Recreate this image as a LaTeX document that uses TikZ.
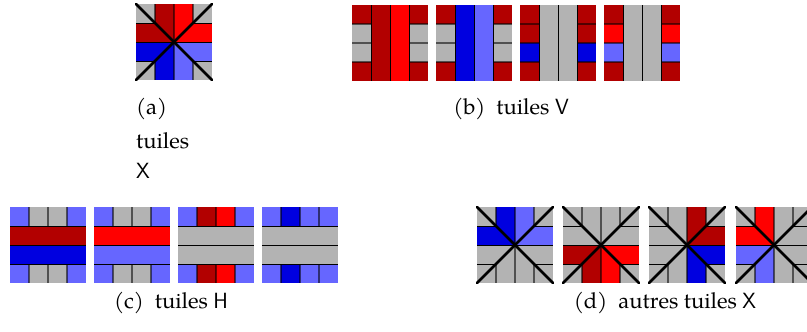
\documentclass[tikz,border=0pt]{standalone}
\usepackage{fontspec}
\setmainfont{texgyrepagella-regular.otf}
\usepackage{tikz}
\definecolor{cDR}{RGB}{178,0,0}
\definecolor{cR}{RGB}{255,0,0}
\definecolor{cB}{RGB}{0,0,224}
\definecolor{cLB}{RGB}{102,102,255}
\definecolor{cG}{RGB}{179,179,179}
\tikzset{
  strongline/.style={black, line width=0.9pt},
  softline/.style={black, opacity=0.55, line width=1.5pt},
  diagline/.style={black, line width=2.8pt, line cap=round},
  captext/.style={font=\fontsize{22}{26}\selectfont, inner sep=0pt}
}
% cells of a 4x4 tile: x, y, list of 16 colours (row by row)
\newcommand\tcells[3]{%
  \foreach \cc [count=\ii from 0] in {#3}{%
    \pgfmathtruncatemacro\cxx{mod(\ii,4)}%
    \pgfmathtruncatemacro\cyy{div(\ii,4)}%
    \fill[\cc] ({#1+19*\cxx},{#2+19*\cyy}) rectangle ++(19,19);}}
\newcommand\vgridlines[2]{%
  \foreach \k in {19,38,57}{%
    \draw[softline] (#1,{#2+\k}) -- ({#1+19},{#2+\k});
    \draw[softline] ({#1+57},{#2+\k}) -- ({#1+76},{#2+\k});}
  \foreach \k in {19,38,57}{%
    \draw[strongline] ({#1+\k},#2) -- ({#1+\k},{#2+76});}}
\newcommand\hgridlines[2]{%
  \foreach \k in {19,38,57}{%
    \draw[softline] ({#1+\k},#2) -- ({#1+\k},{#2+19});
    \draw[softline] ({#1+\k},{#2+57}) -- ({#1+\k},{#2+76});}
  \foreach \k in {19,38,57}{%
    \draw[strongline] (#1,{#2+\k}) -- ({#1+76},{#2+\k});}}
\newcommand\xgridlines[2]{%
  \foreach \k in {19,38,57}{%
    \draw[softline] ({#1+\k},#2) -- ({#1+\k},{#2+19});
    \draw[softline] ({#1+\k},{#2+57}) -- ({#1+\k},{#2+76});}
  \draw[softline] ({#1+38},{#2+19}) -- ({#1+38},{#2+57});
  \foreach \k in {19,38,57}{%
    \draw[strongline] (#1,{#2+\k}) -- ({#1+19},{#2+\k});
    \draw[strongline] ({#1+57},{#2+\k}) -- ({#1+76},{#2+\k});}
  \draw[strongline] ({#1+19},{#2+38}) -- ({#1+57},{#2+38});
  \draw[diagline] (#1,#2) -- ({#1+76},{#2+76});
  \draw[diagline] ({#1+76},#2) -- (#1,{#2+76});}
\begin{document}
\begin{tikzpicture}[x=1pt,y=-1pt]
\useasboundingbox (0,0) rectangle (807,332);
\clip (0,0) rectangle (807,332);
\fill[white] (0,0) rectangle (807,332);
% (a)
\tcells{136}{4}{cG,cDR,cR,cG, cDR,cDR,cR,cR, cB,cB,cLB,cLB, cG,cB,cLB,cG}
\xgridlines{136}{4}
\node[captext, anchor=base west] (capa1) at (136,114) {(a)};
\node[captext, anchor=base west] (capa2) at (136,148) {tuiles};
\node[captext, anchor=base west] (capa3) at (136,178) {\textsf{X}};
% (b) V tiles
\tcells{352}{5}{cDR,cDR,cR,cDR, cG,cDR,cR,cG, cG,cDR,cR,cG, cDR,cDR,cR,cDR}
\vgridlines{352}{5}
\tcells{436}{5}{cDR,cB,cLB,cDR, cG,cB,cLB,cG, cG,cB,cLB,cG, cDR,cB,cLB,cDR}
\vgridlines{436}{5}
\tcells{520}{5}{cDR,cG,cG,cDR, cDR,cG,cG,cDR, cB,cG,cG,cB, cDR,cG,cG,cDR}
\vgridlines{520}{5}
\tcells{604}{5}{cDR,cG,cG,cDR, cR,cG,cG,cR, cLB,cG,cG,cLB, cDR,cG,cG,cDR}
\vgridlines{604}{5}
\node[captext, anchor=base] (capb) at (511,114) {(b)\ \ tuiles \textsf{V}};
% (c) H tiles
\tcells{10}{207}{cLB,cG,cG,cLB, cDR,cDR,cDR,cDR, cB,cB,cB,cB, cLB,cG,cG,cLB}
\hgridlines{10}{207}
\tcells{94}{207}{cLB,cG,cG,cLB, cR,cR,cR,cR, cLB,cLB,cLB,cLB, cLB,cG,cG,cLB}
\hgridlines{94}{207}
\tcells{178}{207}{cLB,cDR,cR,cLB, cG,cG,cG,cG, cG,cG,cG,cG, cLB,cDR,cR,cLB}
\hgridlines{178}{207}
\tcells{262}{207}{cLB,cB,cLB,cLB, cG,cG,cG,cG, cG,cG,cG,cG, cLB,cB,cLB,cLB}
\hgridlines{262}{207}
\node[captext, anchor=base] (capc) at (171,308) {(c)\ \ tuiles \textsf{H}};
% (d) other X tiles
\tcells{477}{207}{cG,cB,cLB,cG, cB,cB,cLB,cLB, cG,cG,cG,cG, cG,cG,cG,cG}
\xgridlines{477}{207}
\tcells{563}{207}{cG,cG,cG,cG, cG,cG,cG,cG, cDR,cDR,cR,cR, cG,cDR,cR,cG}
\xgridlines{563}{207}
\tcells{649}{207}{cG,cG,cDR,cG, cG,cG,cDR,cDR, cG,cG,cB,cB, cG,cG,cB,cG}
\xgridlines{649}{207}
\tcells{736}{207}{cG,cR,cG,cG, cR,cR,cG,cG, cLB,cLB,cG,cG, cG,cLB,cG,cG}
\xgridlines{736}{207}
\node[captext, anchor=base] (capd) at (665,308) {(d)\ \ autres tuiles \textsf{X}};
\end{tikzpicture}
\end{document}
